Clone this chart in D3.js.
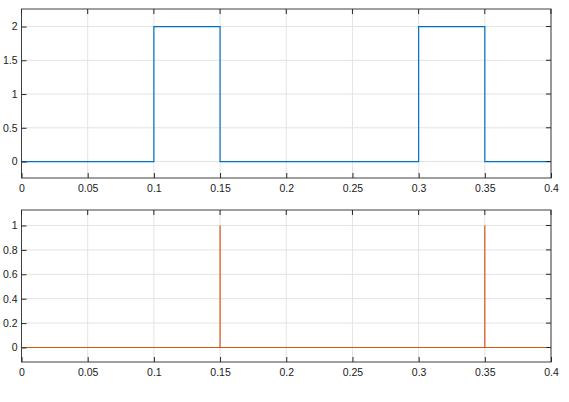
<!DOCTYPE html>
<html><head><meta charset="utf-8">
<script src="https://cdn.jsdelivr.net/npm/d3@7"></script>
<style>body{margin:0;background:#fff}text{font-family:"Liberation Sans",Arial,sans-serif}</style>
</head><body><div id="chart"></div>
<script>
var topX = [0, 0.1, 0.1, 0.15, 0.15, 0.3, 0.3, 0.35, 0.35, 0.4];
var topY = [0, 0, 2, 2, 0, 0, 2, 2, 0, 0];
var botX = [0, 0.15, 0.15, 0.15, 0.35, 0.35, 0.35, 0.4];
var botY = [0, 0, 1, 0, 0, 1, 0, 0];
var xTicks = [0, 0.05, 0.1, 0.15, 0.2, 0.25, 0.3, 0.35, 0.4];
var topTicks = [0, 0.5, 1, 1.5, 2];
var botTicks = [0, 0.2, 0.4, 0.6, 0.8, 1];

var w = 569, h = 402;
var svg = d3.select("#chart").append("svg").attr("width", w).attr("height", h);

function panel(xs, ys, yDom, yTicks, top, bottom, color) {
	var x = d3.scaleLinear().domain([0, 0.4]).range([21.5, 551]);
	var y = d3.scaleLinear().domain(yDom).range([bottom, top]);
	var g = svg.append("g");
	// grid
	g.selectAll(".gx").data(xTicks).enter().append("line")
		.attr("x1", d => x(d)).attr("x2", d => x(d)).attr("y1", top).attr("y2", bottom)
		.attr("stroke", "#e3e3e3").attr("stroke-width", 1);
	g.selectAll(".gy").data(yTicks).enter().append("line")
		.attr("y1", d => y(d)).attr("y2", d => y(d)).attr("x1", 21.5).attr("x2", 551)
		.attr("stroke", "#e3e3e3").attr("stroke-width", 1);
	// line
	g.append("path").datum(xs.map((d, i) => [d, ys[i]]))
		.attr("d", d3.line().x(d => x(d[0])).y(d => y(d[1])))
		.attr("fill", "none").attr("stroke", color).attr("stroke-width", 1.2);
	// box
	g.append("rect").attr("x", 21.5).attr("y", top).attr("width", 551 - 21.5).attr("height", bottom - top)
		.attr("fill", "none").attr("stroke", "#404040").attr("stroke-width", 1);
	// axes
	var ax = g.append("g").attr("transform", `translate(0,${bottom})`)
		.call(d3.axisBottom(x).tickValues(xTicks).tickFormat(d3.format("")).tickSizeInner(-5).tickSizeOuter(0).tickPadding(7));
	var ay = g.append("g").attr("transform", "translate(21.5,0)")
		.call(d3.axisLeft(y).tickValues(yTicks).tickFormat(d3.format("")).tickSizeInner(-5).tickSizeOuter(0).tickPadding(4));
	[ax, ay].forEach(a => {
		a.select(".domain").remove();
		a.selectAll("line").attr("stroke", "#262626");
		a.selectAll("text").attr("fill", "#1a1a1a").style("font-size", "10.5px");
	});
	// top ticks
	g.selectAll(".tt").data(xTicks).enter().append("line")
		.attr("x1", d => x(d)).attr("x2", d => x(d)).attr("y1", top).attr("y2", top + 5)
		.attr("stroke", "#262626");
	g.selectAll(".rt").data(yTicks).enter().append("line")
		.attr("x1", 551).attr("x2", 546).attr("y1", d => y(d)).attr("y2", d => y(d))
		.attr("stroke", "#262626");
}

panel(topX, topY, [-0.244, 2.26], topTicks, 9, 178, "#0072bd");
panel(botX, botY, [-0.119, 1.127], botTicks, 210, 362, "#d95319");
</script></body></html>
